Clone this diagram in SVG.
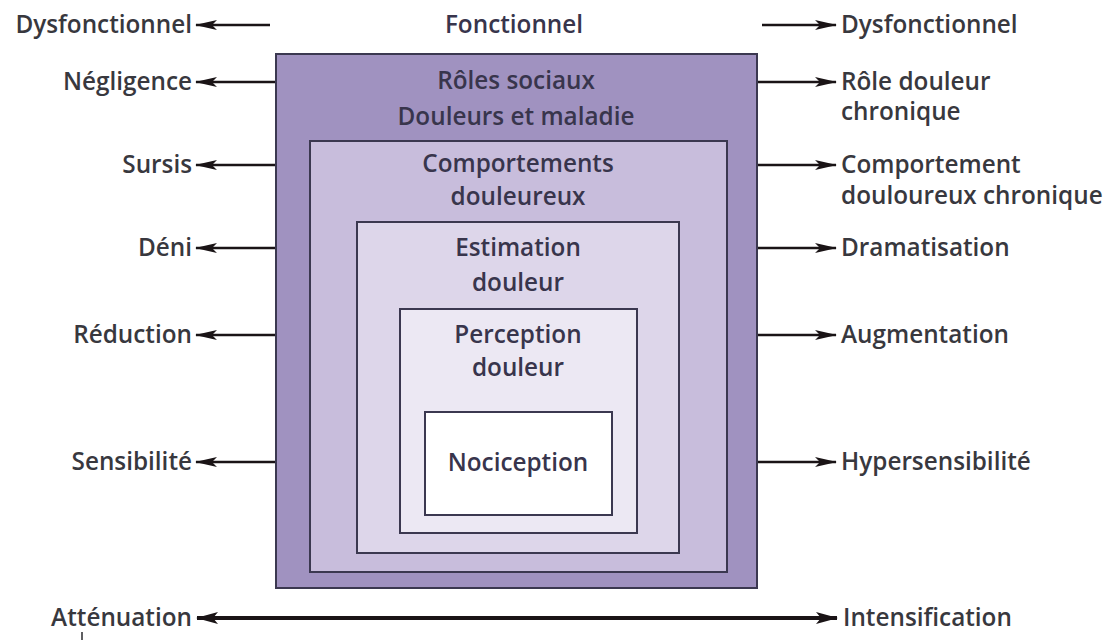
<svg xmlns="http://www.w3.org/2000/svg" width="1104" height="640" viewBox="0 0 1104 640">
<defs>
<style>
text{font-family:"Open Sans","Liberation Sans",sans-serif;font-size:24.3px;font-weight:600;fill:#38383e}
.c{text-anchor:middle;fill:#38354c}
.r{text-anchor:end}
.box{stroke:#3b3850;stroke-width:2}
.ar{stroke:#1a1416;stroke-width:2.5;fill:none}
.thick{stroke:#1a1416;stroke-width:4;fill:none}
</style>
<marker id="ah" viewBox="0 0 22 10" refX="21" refY="5" markerWidth="22" markerHeight="10" markerUnits="userSpaceOnUse" orient="auto-start-reverse">
<path d="M0,0 L22,5 L0,10 L5,5 Z" fill="#1a1416"/>
</marker>
<marker id="ahb" viewBox="0 0 22 12" refX="21" refY="6" markerWidth="22" markerHeight="12" markerUnits="userSpaceOnUse" orient="auto-start-reverse">
<path d="M0,0 L22,6 L0,12 L5,6 Z" fill="#1a1416"/>
</marker>
</defs>
<rect width="1104" height="640" fill="#ffffff"/>
<g id="box-roles">
<rect class="box" x="276" y="54" width="481" height="534" fill="#a092c0"/>
<text class="c" x="516" y="89">Rôles sociaux</text>
<text class="c" x="516" y="125">Douleurs et maladie</text>
</g>
<g id="box-comportements">
<rect class="box" x="310" y="141" width="417" height="431" fill="#c8bddc"/>
<text class="c" x="518" y="172">Comportements</text>
<text class="c" x="518" y="205">douleureux</text>
</g>
<g id="box-estimation">
<rect class="box" x="357" y="222" width="322" height="331" fill="#ddd6ea"/>
<text class="c" x="518" y="256">Estimation</text>
<text class="c" x="518" y="291">douleur</text>
</g>
<g id="box-perception">
<rect class="box" x="400" y="309" width="237" height="224" fill="#ece8f3"/>
<text class="c" x="518" y="343">Perception</text>
<text class="c" x="518" y="376">douleur</text>
</g>
<g id="box-nociception">
<rect class="box" x="425" y="412" width="187" height="103" fill="#ffffff"/>
<text class="c" x="518" y="471">Nociception</text>
</g>
<g id="label-fonctionnel"><text class="c" x="514" y="33">Fonctionnel</text></g>
<g id="labels-left">
<text class="r" x="192" y="33">Dysfonctionnel</text>
<text class="r" x="192" y="90">Négligence</text>
<text class="r" x="192" y="173">Sursis</text>
<text class="r" x="192" y="256">Déni</text>
<text class="r" x="192" y="343">Réduction</text>
<text class="r" x="192" y="470">Sensibilité</text>
<text class="r" x="192" y="626">Atténuation</text>
</g>
<g id="labels-right">
<text x="841" y="33">Dysfonctionnel</text>
<text x="841" y="90">Rôle douleur</text>
<text x="841" y="120">chronique</text>
<text x="841" y="173">Comportement</text>
<text x="841" y="204">douloureux chronique</text>
<text x="841" y="256">Dramatisation</text>
<text x="841" y="343">Augmentation</text>
<text x="841" y="470">Hypersensibilité</text>
<text x="843" y="626">Intensification</text>
</g>
<g id="connectors">
<line class="ar" x1="270" y1="25" x2="196" y2="25" marker-end="url(#ah)"/>
<line class="ar" x1="275" y1="82" x2="196" y2="82" marker-end="url(#ah)"/>
<line class="ar" x1="275" y1="165" x2="196" y2="165" marker-end="url(#ah)"/>
<line class="ar" x1="275" y1="248" x2="196" y2="248" marker-end="url(#ah)"/>
<line class="ar" x1="275" y1="335" x2="196" y2="335" marker-end="url(#ah)"/>
<line class="ar" x1="275" y1="462" x2="196" y2="462" marker-end="url(#ah)"/>
<line class="ar" x1="762" y1="25" x2="836" y2="25" marker-end="url(#ah)"/>
<line class="ar" x1="758" y1="82" x2="836" y2="82" marker-end="url(#ah)"/>
<line class="ar" x1="758" y1="165" x2="836" y2="165" marker-end="url(#ah)"/>
<line class="ar" x1="758" y1="248" x2="836" y2="248" marker-end="url(#ah)"/>
<line class="ar" x1="758" y1="335" x2="836" y2="335" marker-end="url(#ah)"/>
<line class="ar" x1="758" y1="462" x2="836" y2="462" marker-end="url(#ah)"/>
<line class="thick" x1="197" y1="618" x2="837" y2="618" marker-start="url(#ahb)" marker-end="url(#ahb)"/>
<line x1="82" y1="632" x2="82" y2="640" stroke="#2a2a2e" stroke-width="1.5"/>
</g>
</svg>
